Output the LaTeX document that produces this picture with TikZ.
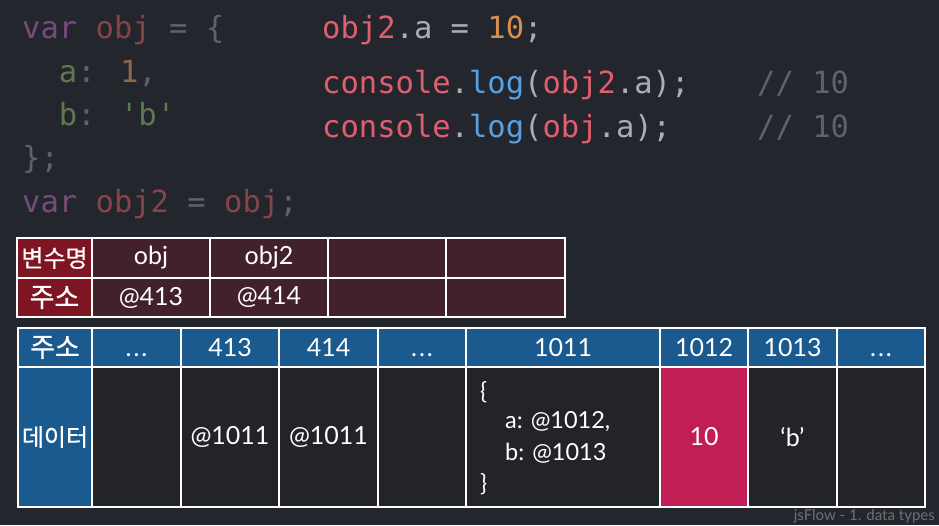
\documentclass[tikz,border=0pt]{standalone}
\usepackage{fontspec}
\setmainfont{Lato}
\newfontfamily\codefont{DejaVu Sans Mono}
\newfontfamily\kofont[FakeBold=0.7]{Noto Sans CJK KR}
\definecolor{bg}{RGB}{35,38,45}
\definecolor{dvar}{RGB}{118,76,124}
\definecolor{dobj}{RGB}{135,68,72}
\definecolor{dpun}{RGB}{95,98,104}
\definecolor{dkey}{RGB}{94,120,82}
\definecolor{dnum}{RGB}{139,105,75}
\definecolor{cred}{RGB}{224,95,110}
\definecolor{cpun}{RGB}{170,173,178}
\definecolor{cnum}{RGB}{214,143,80}
\definecolor{cblue}{RGB}{87,160,227}
\definecolor{ccom}{RGB}{92,99,112}
\definecolor{tblue}{RGB}{26,90,143}
\definecolor{tpink}{RGB}{194,30,86}
\definecolor{tdred}{RGB}{125,21,34}
\definecolor{tmaroon}{RGB}{66,33,43}
\definecolor{tdata}{RGB}{34,36,42}
\definecolor{foot}{RGB}{110,112,118}
\newcommand\mcell[7]{\node[cell,#6,minimum width={(#3-#2)*1pt},minimum height={(#5-#4)*1pt}] (#1) at ({(#2+#3)/2},{(#4+#5)/2}) {#7};}
\newcommand\dotz{\vphantom{0}.\kern2pt.\kern2pt.}
\begin{document}
\begin{tikzpicture}[x=1pt,y=-1pt,
  code/.style={anchor=base west,inner sep=0pt,font=\codefont\fontsize{30.5}{36}\selectfont},
  cell/.style={draw=white,line width=1.5pt,inner sep=0pt,text=white,font=\fontsize{25}{28}\selectfont},
  ko/.style={font=\kofont\fontsize{24}{26}\selectfont},
  kobig/.style={font=\kofont\fontsize{27}{28}\selectfont},
  objtxt/.style={anchor=base west,inner sep=0pt,text=white,font=\fontsize{23.5}{26}\selectfont},
  hdr/.style={fill=tdred},
  mar/.style={fill=tmaroon},
  blu/.style={fill=tblue},
  dat/.style={fill=tdata},
  pnk/.style={fill=tpink}]
\fill[bg] (0,0) rectangle (939,525);
\useasboundingbox (0,0) rectangle (939,525);
% code, left
\node[code] (l1) at (22,38) {\textcolor{dvar}{var} \textcolor{dobj}{obj} \textcolor{dpun}{= \{}};
\node[code] (l2) at (22,82) {\phantom{xx}\textcolor{dkey}{a}\textcolor{dpun}{:} \textcolor{dnum}{1}\textcolor{dpun}{,}};
\node[code] (l3) at (22,125) {\phantom{xx}\textcolor{dkey}{b}\textcolor{dpun}{:} \textcolor{dkey}{\textquotesingle b\textquotesingle}};
\node[code] (l4) at (22,168) {\textcolor{dpun}{\};}};
\node[code] (l5) at (22,212) {\textcolor{dvar}{var} \textcolor{dobj}{obj2} \textcolor{dpun}{=} \textcolor{dobj}{obj}\textcolor{dpun}{;}};
% code, right
\node[code] (r1) at (322,38) {\textcolor{cred}{obj2}\textcolor{cpun}{.a =} \textcolor{cnum}{10}\textcolor{cpun}{;}};
\node[code] (r2) at (322,93) {\textcolor{cred}{console}\textcolor{cpun}{.}\textcolor{cblue}{log}\textcolor{cpun}{(}\textcolor{cred}{obj2}\textcolor{cpun}{.a);}};
\node[code] (r3) at (322,137) {\textcolor{cred}{console}\textcolor{cpun}{.}\textcolor{cblue}{log}\textcolor{cpun}{(}\textcolor{cred}{obj}\textcolor{cpun}{.a);}};
\node[code,text=ccom] (c2) at (757,93) {// 10};
\node[code,text=ccom] (c3) at (757,137) {// 10};
% variable table
\mcell{v1}{17}{92}{238}{278}{hdr,ko}{변수명}
\mcell{v2}{92}{210}{238}{278}{mar}{obj}
\mcell{v3}{210}{328}{238}{278}{mar}{obj2}
\mcell{v4}{328}{446}{238}{278}{mar}{}
\mcell{v5}{446}{565}{238}{278}{mar}{}
\mcell{a1}{17}{92}{278}{317}{hdr,kobig}{주소}
\mcell{a2}{92}{210}{278}{317}{mar}{@413}
\mcell{a3}{210}{328}{278}{317}{mar}{@414}
\mcell{a4}{328}{446}{278}{317}{mar}{}
\mcell{a5}{446}{565}{278}{317}{mar}{}
% memory table
\mcell{h0}{18}{92}{328}{367}{blu,kobig}{주소}
\mcell{h1}{92}{181}{328}{367}{blu}{\dotz}
\mcell{h2}{181}{279}{328}{367}{blu}{413}
\mcell{h3}{279}{378}{328}{367}{blu}{414}
\mcell{h4}{378}{466}{328}{367}{blu}{\dotz}
\mcell{h5}{466}{660}{328}{367}{blu}{1011}
\mcell{h6}{660}{748}{328}{367}{blu}{1012}
\mcell{h7}{748}{837}{328}{367}{blu}{1013}
\mcell{h8}{837}{925}{328}{367}{blu}{\dotz}
\mcell{d0}{18}{92}{367}{507}{blu,ko}{데이터}
\mcell{d1}{92}{181}{367}{507}{dat}{}
\mcell{d2}{181}{279}{367}{507}{dat}{@1011}
\mcell{d3}{279}{378}{367}{507}{dat}{@1011}
\mcell{d4}{378}{466}{367}{507}{dat}{}
\mcell{d5}{466}{660}{367}{507}{dat}{}
\mcell{d6}{660}{748}{367}{507}{pnk}{10}
\mcell{d7}{748}{837}{367}{507}{dat}{\textquoteleft b\textquoteright}
\mcell{d8}{837}{925}{367}{507}{dat}{}
\node[objtxt] (o1) at (480,399) {\{};
\node[objtxt] (o2) at (505,428) {a: @1012,};
\node[objtxt] (o3) at (505,460) {b: @1013};
\node[objtxt] (o4) at (480,491) {\}};
% footer
\node[anchor=base east,inner sep=0pt,text=foot,font=\fontsize{15}{17}\selectfont] (ft) at (935,520) {jsFlow - 1. data types};
\end{tikzpicture}
\end{document}
